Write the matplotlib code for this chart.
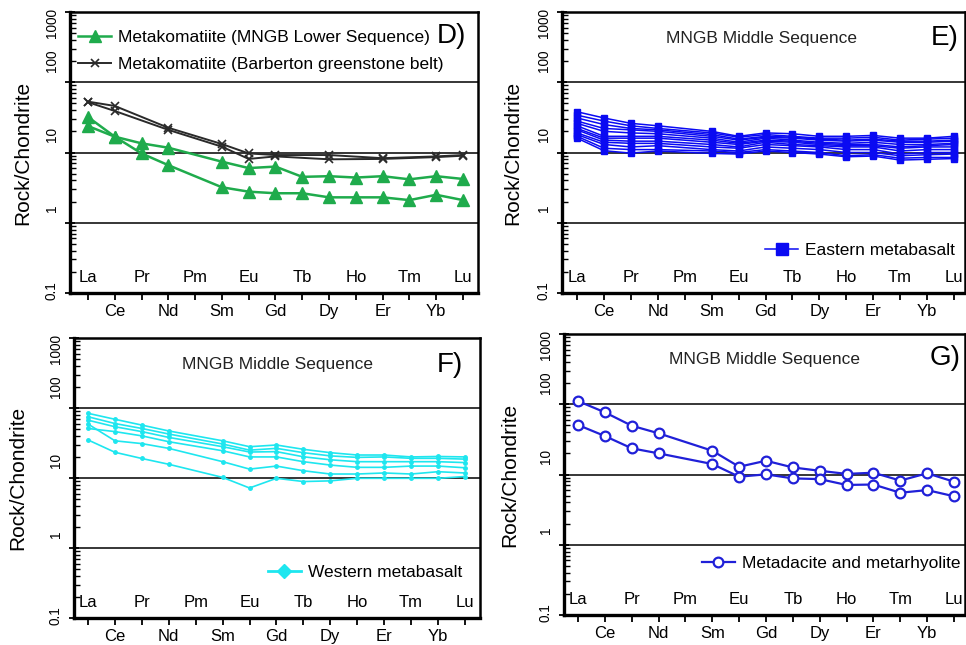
import matplotlib

matplotlib.use("Agg")
import matplotlib.pyplot as plt
import matplotlib.transforms as mtransforms
from matplotlib.ticker import LogLocator, NullFormatter

plt.rcParams["font.family"] = ["Liberation Sans", "DejaVu Sans"]

# --------------------------------------------------------------------------- #
# Data: chondrite-normalised REE patterns               #
# --------------------------------------------------------------------------- #
REE = ["La", "Ce", "Pr", "Nd", "Pm", "Sm", "Eu", "Gd", "Tb", "Dy", "Ho", "Er",
       "Tm", "Yb", "Lu"]
MEASURED = [e for e in REE if e != "Pm"]
BARB_ELEMENTS = ["La", "Ce", "Nd", "Sm", "Eu", "Gd", "Dy", "Er", "Yb", "Lu"]
Y_TICKS = [0.1, 1, 10, 100, 1000]
Y_TICK_LABELS = ["0.1", "1", "10", "100", "1000"]

# D) metakomatiite, MNGB Lower Sequence (values at MEASURED)
KOMATIITE_MNGB = [
    [32, 16.8, 9.7, 6.6, 3.2, 2.77, 2.63, 2.63, 2.3, 2.3, 2.3, 2.1, 2.5, 2.1],
    [23.8, 16.8, 13.5, 11.7, 7.4, 6.0, 6.3, 4.5, 4.6, 4.4, 4.6, 4.15, 4.6, 4.2],
]
# D) metakomatiite, Barberton greenstone belt (values at BARB_ELEMENTS)
KOMATIITE_BARB = [
    [53, 46, 22.5, 13.2, 9.7, 9.2, 9.2, 8.3, 8.8, 9.2],
    [52, 39, 21, 12.1, 8.1, 8.8, 8.0, 8.1, 8.6, 9.0],
]
# E) eastern metabasalt (values at MEASURED)
EASTERN_BASALT = [
    [38, 31, 26, 24, 20, 17, 19, 18.5, 17, 17, 17.5, 16, 16, 17],
    [34, 28, 24, 22, 19, 16.5, 18, 17, 16, 16, 16.5, 15, 15.5, 16],
    [31, 25, 22, 21, 18, 15.5, 17, 16.5, 15.5, 15, 15.5, 14.5, 14.5, 15],
    [28, 22, 21, 20, 17, 15, 16.5, 16, 15, 14.5, 15, 14, 14, 14.5],
    [26, 20, 19, 18.5, 16, 14, 16, 15, 14, 13.5, 14, 13, 13, 13.5],
    [24, 17, 17, 17, 15, 13.5, 15, 14.5, 13.5, 13, 13, 12, 12.5, 13],
    [22, 16, 16, 16, 14, 13, 14.5, 14, 13, 12.5, 12.5, 11.5, 12, 12],
    [21, 15, 14.5, 14.5, 13, 12, 14, 13, 12.5, 12, 12, 10.5, 11, 11],
    [19, 14, 13.5, 13.5, 12, 11.5, 13, 12.5, 12, 11, 11, 9.5, 10, 10],
    [18, 13, 12, 12.5, 11, 10.5, 12, 11.5, 11, 10, 10, 9, 9.3, 9.5],
    [17, 11.5, 11, 11, 10.5, 10, 11, 10.5, 10, 9, 9.3, 8.3, 8.5, 8.5],
    [16, 10.6, 9.8, 10.5, 9.7, 9.5, 10.5, 10, 9.5, 8.7, 8.9, 7.8, 8, 8.2],
]
# F) western metabasalt (values at MEASURED)
WESTERN_BASALT = [
    [84, 69, 57, 47, 34, 28, 29.6, 25.7, 23, 21.3, 21.3, 20, 20.3, 20],
    [75, 60, 51, 42.5, 30.6, 25, 26.5, 23, 20.7, 19.7, 20, 19.1, 19.1, 18.6],
    [67, 54, 46, 38, 28, 23.5, 23.8, 20.1, 18.2, 17.1, 17.1, 17.1, 17.1, 16.6],
    [51, 46, 40, 33, 24.5, 20, 20, 17.1, 15.3, 14.2, 14.2, 14.8, 14.8, 14],
    [59, 34, 31, 26.5, 17.1, 13.4, 14.8, 12.7, 11.4, 11.4, 11.8, 11.4, 12.3, 11.8],
    [35, 23.3, 19, 15.7, 10.2, 7.2, 9.9, 8.9, 9.1, 9.9, 9.9, 9.9, 9.9, 10.5],
]
# G) metadacite and metarhyolite (values at MEASURED)
DACITE_RHYOLITE = [
    [111, 76.8, 49.5, 38.6, 21.8, 12.9, 15.7, 12.6, 11.3, 10.2, 10.6, 8.2, 10.4, 7.9],
    [50.7, 35.3, 23.6, 20, 14.1, 9.3, 10.05, 8.8, 8.6, 7.1, 7.2, 5.5, 6.0, 4.9],
]

GREEN = "#1fab4c"
BARB_GREY = "#2a2a2a"
EAST_BLUE = "#0a0af2"
WEST_CYAN = "#1ee6ef"
DACITE_BLUE = "#2020d8"


def xpos(elements):
    return [REE.index(e) for e in elements]


def setup_axes(ax, xlim, ylabel_x):
    ax.set_yscale("log")
    ax.set_ylim(0.1, 1000)
    ax.set_xlim(*xlim)
    for v in (1, 10, 100):
        ax.axhline(v, color="black", lw=1.1, zorder=1)
    ax.set_yticks(Y_TICKS)
    ax.set_yticklabels([])
    ax.yaxis.set_minor_locator(LogLocator(base=10, subs=range(2, 10)))
    ax.yaxis.set_minor_formatter(NullFormatter())
    ax.tick_params(axis="y", which="major", direction="inout", length=7, width=1.3)
    ax.tick_params(axis="y", which="minor", direction="in", length=4, width=1)

    # rotated decade labels, sitting a little above their tick like the original
    ytrans = mtransforms.blended_transform_factory(ax.transAxes, ax.transData)
    for v, lab in zip(Y_TICKS, Y_TICK_LABELS):
        if v == 1000:
            va, dy = "top", 3
        elif v == 0.1:
            va, dy = "center", 2
        else:
            va, dy = "bottom", 7.5
        off = mtransforms.ScaledTranslation(0, dy / 72, fig.dpi_scale_trans)
        ax.text(-0.028, v, lab, rotation=90, ha="right", va=va, fontsize=9.8,
                transform=ytrans + off)

    # odd elements below the axis, even ones just inside it
    ax.set_xticks(range(len(REE)))
    ax.set_xticklabels([e if i % 2 else "" for i, e in enumerate(REE)])
    ax.tick_params(axis="x", direction="out", length=5, width=1.3,
                   labelsize=12, pad=3)
    trans = mtransforms.blended_transform_factory(ax.transData, ax.transAxes)
    for i, e in enumerate(REE):
        if i % 2 == 0:
            ax.text(i, 0.055, e, transform=trans, ha="center", va="center",
                    fontsize=12)

    for side in ("top", "right"):
        ax.spines[side].set_linewidth(1.8)
    for side in ("left", "bottom"):
        ax.spines[side].set_linewidth(2.4)
    ax.set_ylabel("Rock/Chondrite", fontsize=15)
    ax.yaxis.set_label_coords(ylabel_x, 0.5)


def legend(ax, **kw):
    return ax.legend(frameon=False, fontsize=12.5, borderpad=0, borderaxespad=0,
                     handlelength=1.9, handletextpad=0.4, **kw)


fig = plt.figure(figsize=(9.66, 6.45), dpi=100)
W, H = 966, 645


def add_axes(left, top, right, bottom):
    return fig.add_axes([left / W, 1 - bottom / H, (right - left) / W, (bottom - top) / H])


axD = add_axes(70, 12, 478, 293)
axE = add_axes(562, 12, 965, 293)
axF = add_axes(74, 338, 480, 618)
axG = add_axes(564, 334, 965, 615)

# --- D -------------------------------------------------------------------- #
setup_axes(axD, (-0.67, 14.56), -0.093)
for i, row in enumerate(KOMATIITE_MNGB):
    axD.plot(xpos(MEASURED), row, "-^", color=GREEN, lw=1.8, ms=8.5, mec=GREEN,
             label="Metakomatiite (MNGB Lower Sequence)" if i == 0 else None,
             zorder=3)
for i, row in enumerate(KOMATIITE_BARB):
    axD.plot(xpos(BARB_ELEMENTS), row, "-x", color=BARB_GREY, lw=1.4, ms=6,
             mew=1.2, label="Metakomatiite (Barberton greenstone belt)" if i == 0 else None,
             zorder=4)
legend(axD, loc="upper left", bbox_to_anchor=(0.02, 0.937), labelspacing=0.7)
axD.text(0.936, 0.915, "D)", transform=axD.transAxes, ha="center", va="center",
         fontsize=20)

# --- E -------------------------------------------------------------------- #
setup_axes(axE, (-0.56, 14.41), -0.099)
for i, row in enumerate(EASTERN_BASALT):
    axE.plot(xpos(MEASURED), row, "-s", color=EAST_BLUE, lw=1.1, ms=3.8,
             label="Eastern metabasalt" if i == 0 else None, zorder=3)
leg = legend(axE, loc="center right", bbox_to_anchor=(0.975, 0.153))
leg.legend_handles[0].set_markersize(8)
axE.text(0.496, 0.907, "MNGB Middle Sequence", transform=axE.transAxes,
         ha="center", va="center", fontsize=12.5, color="#222222")
axE.text(0.95, 0.907, "E)", transform=axE.transAxes, ha="center", va="center",
         fontsize=20)

# --- F -------------------------------------------------------------------- #
setup_axes(axF, (-0.52, 14.56), -0.116)
for i, row in enumerate(WESTERN_BASALT):
    axF.plot(xpos(MEASURED), row, "-o", color=WEST_CYAN, lw=1.2, ms=2.5,
             label="Western metabasalt" if i == 0 else None, zorder=3)
leg = legend(axF, loc="center right", bbox_to_anchor=(0.956, 0.161))
leg.legend_handles[0].set_marker("D")
leg.legend_handles[0].set_markersize(7)
leg.legend_handles[0].set_linewidth(2)
axF.text(0.5, 0.904, "MNGB Middle Sequence", transform=axF.transAxes,
         ha="center", va="center", fontsize=12.5, color="#222222")
axF.text(0.926, 0.904, "F)", transform=axF.transAxes, ha="center", va="center",
         fontsize=20)

# --- G -------------------------------------------------------------------- #
setup_axes(axG, (-0.52, 14.41), -0.112)
for i, row in enumerate(DACITE_RHYOLITE):
    axG.plot(xpos(MEASURED), row, "-o", color=DACITE_BLUE, lw=1.6, ms=7,
             mfc="white", mec=DACITE_BLUE, mew=1.6,
             label="Metadacite and metarhyolite" if i == 0 else None, zorder=3)
legend(axG, loc="center right", bbox_to_anchor=(0.988, 0.185))
axG.text(0.499, 0.911, "MNGB Middle Sequence", transform=axG.transAxes,
         ha="center", va="center", fontsize=12.5, color="#222222")
axG.text(0.95, 0.915, "G)", transform=axG.transAxes, ha="center", va="center",
         fontsize=20)

fig.savefig("out.png", dpi=100)
